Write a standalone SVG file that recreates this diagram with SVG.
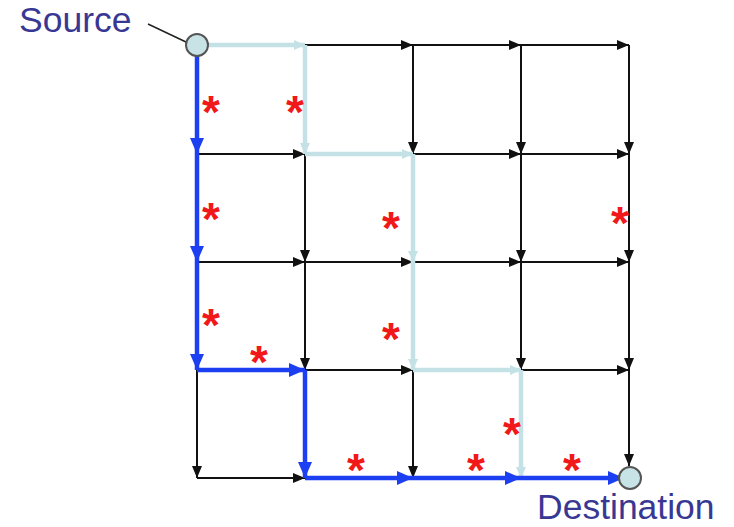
<svg xmlns="http://www.w3.org/2000/svg" width="734" height="527" viewBox="0 0 734 527">
  <style>
    .e { stroke: #111; stroke-width: 2; fill: none; marker-end: url(#ah); }
    .lb { stroke: #c4e2e6; stroke-width: 4.5; fill: none; marker-end: url(#ahl); }
    .bl { stroke: #1d3ff2; stroke-width: 4.5; fill: none; marker-end: url(#ahb); }
    .star { fill: #f01818; font-family: "Liberation Sans", Arial, sans-serif; font-size: 46px; font-weight: bold; text-anchor: middle; }
    .lbl { fill: #383894; font-family: "Liberation Sans", Arial, sans-serif; font-size: 35.5px; }
    .node { fill: #c8e3e6; stroke: #555; stroke-width: 2; }
  </style>
  <defs>
    <marker id="ah" markerUnits="userSpaceOnUse" markerWidth="12" markerHeight="10" refX="12" refY="5" orient="auto">
      <path d="M0,0 L12,5 L0,10 z" fill="#111"/>
    </marker>
    <marker id="ahl" markerUnits="userSpaceOnUse" markerWidth="11" markerHeight="10" refX="11" refY="5" orient="auto">
      <path d="M0,0 L11,5 L0,10 z" fill="#c4e2e6"/>
    </marker>
    <marker id="ahb" markerUnits="userSpaceOnUse" markerWidth="16" markerHeight="14" refX="16" refY="7" orient="auto">
      <path d="M0,0 L16,7 L0,14 z" fill="#1d3ff2"/>
    </marker>
  </defs>

  <!-- grid: columns x=197,305,413,521,629; rows y=45,154,262,370,478 -->
  <g id="connectors">
    <!-- black edges: horizontal -->
    <line class="e" x1="305" y1="45" x2="413" y2="45"/>
    <line class="e" x1="413" y1="45" x2="521" y2="45"/>
    <line class="e" x1="521" y1="45" x2="629" y2="45"/>
    <line class="e" x1="197" y1="154" x2="305" y2="154"/>
    <line class="e" x1="413" y1="154" x2="521" y2="154"/>
    <line class="e" x1="521" y1="154" x2="629" y2="154"/>
    <line class="e" x1="197" y1="262" x2="305" y2="262"/>
    <line class="e" x1="305" y1="262" x2="413" y2="262"/>
    <line class="e" x1="413" y1="262" x2="521" y2="262"/>
    <line class="e" x1="521" y1="262" x2="629" y2="262"/>
    <line class="e" x1="305" y1="370" x2="413" y2="370"/>
    <line class="e" x1="521" y1="370" x2="629" y2="370"/>
    <line class="e" x1="197" y1="478" x2="305" y2="478"/>
    <!-- black edges: vertical -->
    <line class="e" x1="197" y1="370" x2="197" y2="478"/>
    <line class="e" x1="305" y1="154" x2="305" y2="262"/>
    <line class="e" x1="305" y1="262" x2="305" y2="370"/>
    <line class="e" x1="413" y1="45" x2="413" y2="154"/>
    <line class="e" x1="413" y1="370" x2="413" y2="478"/>
    <line class="e" x1="521" y1="45" x2="521" y2="154"/>
    <line class="e" x1="521" y1="154" x2="521" y2="262"/>
    <line class="e" x1="521" y1="262" x2="521" y2="370"/>
    <line class="e" x1="629" y1="45" x2="629" y2="154"/>
    <line class="e" x1="629" y1="154" x2="629" y2="262"/>
    <line class="e" x1="629" y1="262" x2="629" y2="370"/>
    <line class="e" x1="629" y1="370" x2="629" y2="466"/>

    <!-- light blue path -->
    <line class="lb" x1="209" y1="45" x2="305" y2="45"/>
    <line class="lb" x1="305" y1="45" x2="305" y2="154"/>
    <line class="lb" x1="305" y1="154" x2="413" y2="154"/>
    <line class="lb" x1="413" y1="154" x2="413" y2="262"/>
    <line class="lb" x1="413" y1="262" x2="413" y2="370"/>
    <line class="lb" x1="413" y1="370" x2="521" y2="370"/>
    <line class="lb" x1="521" y1="370" x2="521" y2="478"/>

    <!-- blue path -->
    <line class="bl" x1="197" y1="50" x2="197" y2="154"/>
    <line class="bl" x1="197" y1="154" x2="197" y2="262"/>
    <line class="bl" x1="197" y1="262" x2="197" y2="370"/>
    <line class="bl" x1="197" y1="370" x2="305" y2="370"/>
    <line class="bl" x1="305" y1="370" x2="305" y2="478"/>
    <line class="bl" x1="305" y1="478" x2="413" y2="478"/>
    <line class="bl" x1="413" y1="478" x2="521" y2="478"/>
    <line class="bl" x1="521" y1="478" x2="624" y2="478"/>

    <!-- leader to the source node -->
    <line x1="148" y1="24" x2="186" y2="42" stroke="#222" stroke-width="1.5"/>
  </g>

  <g id="source">
    <circle class="node" cx="197" cy="45" r="11"/>
    <text class="lbl" x="19" y="32">Source</text>
  </g>
  <g id="destination">
    <circle class="node" cx="630" cy="478" r="11"/>
    <text class="lbl" x="537" y="519">Destination</text>
  </g>

  <g id="marks">
    <text class="star" x="211" y="128">*</text>
    <text class="star" x="295" y="128">*</text>
    <text class="star" x="211" y="235">*</text>
    <text class="star" x="391" y="244">*</text>
    <text class="star" x="620" y="239">*</text>
    <text class="star" x="211" y="341">*</text>
    <text class="star" x="391" y="355">*</text>
    <text class="star" x="259" y="378">*</text>
    <text class="star" x="512" y="450">*</text>
    <text class="star" x="356" y="486">*</text>
    <text class="star" x="476" y="486">*</text>
    <text class="star" x="572" y="486">*</text>
  </g>
</svg>
